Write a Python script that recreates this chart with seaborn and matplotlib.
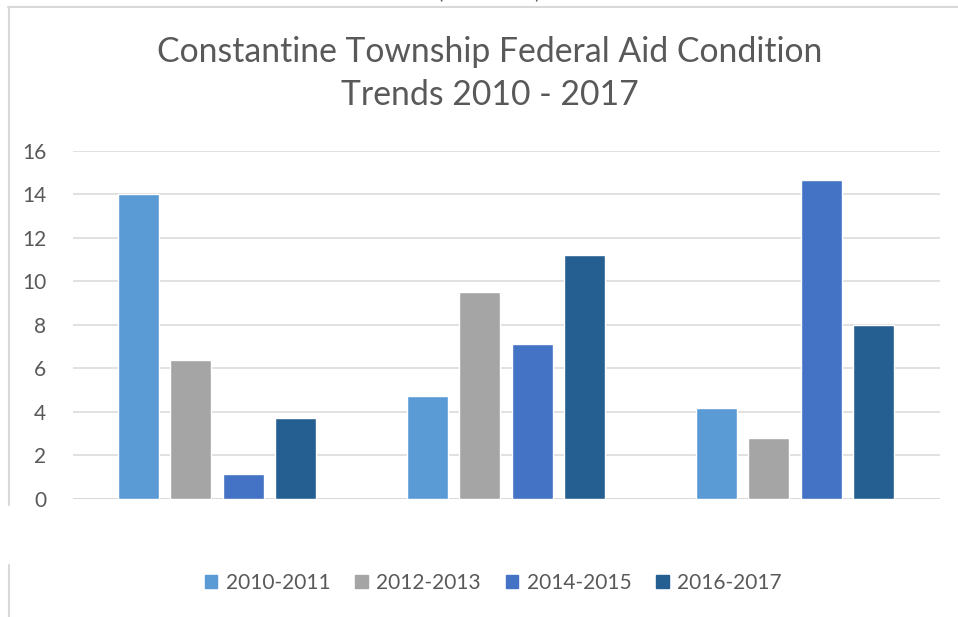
import numpy as np
import pandas as pd
import seaborn as sns
import matplotlib.pyplot as plt
from matplotlib.lines import Line2D

# Values
groups = ["Group A", "Group B", "Group C"]
periods = ["2010-2011", "2012-2013", "2014-2015", "2016-2017"]
values_2010_2011 = [14.0, 4.75, 4.17]
values_2012_2013 = [6.4, 9.52, 2.8]
values_2014_2015 = [1.15, 7.12, 14.67]
values_2016_2017 = [3.7, 11.22, 8.0]

period_colors = {
    "2010-2011": "#5B9BD5",
    "2012-2013": "#A5A5A5",
    "2014-2015": "#4472C4",
    "2016-2017": "#255E91",
}

df = pd.DataFrame({
    "group": groups * 4,
    "period": np.repeat(periods, 3),
    "value": values_2010_2011 + values_2012_2013 + values_2014_2015 + values_2016_2017,
})

sns.set_style("white")
plt.rcParams["font.family"] = ["Lato", "DejaVu Sans"]

text_grey = "#595959"
line_grey = "#D9D9D9"

fig = plt.figure(figsize=(9.58, 6.17), dpi=100)
ax = fig.add_axes([0.0757, 0.1913, 0.905, 0.564])

sns.barplot(data=df, x="group", y="value", hue="period", order=groups,
            hue_order=periods, palette=period_colors, width=0.724, gap=0.215,
            saturation=1, ax=ax, legend=True)

ax.set_xlim(-0.5, 2.5)
ax.set_ylim(0, 16)
ax.set_yticks(range(0, 17, 2))
ax.yaxis.grid(True, color=line_grey, linewidth=1.1)
ax.set_axisbelow(True)
for s in ["top", "right", "left", "bottom"]:
    ax.spines[s].set_visible(False)
ax.axhline(0, color=line_grey, linewidth=1.4, zorder=0.5)
ax.set_xticks([])
ax.set_xlabel("")
ax.set_ylabel("")
ax.tick_params(axis="y", length=0, pad=19, labelsize=15, labelcolor=text_grey)

ax.legend_.remove()
handles = [plt.Rectangle((0, 0), 1, 1, color=period_colors[p]) for p in periods]
fig.legend(handles, periods, loc="center", bbox_to_anchor=(0.515, 0.055),
           ncol=4, frameon=False, fontsize=15, labelcolor=text_grey,
           handlelength=0.6, handleheight=0.6, handletextpad=0.4,
           columnspacing=1.2)

fig.text(0.511, 0.881, "Constantine Township Federal Aid Condition\nTrends 2010 - 2017",
         ha="center", va="center", fontsize=24.3, color=text_grey,
         linespacing=1.4)

# clipped caption from above the chart frame
fig.text(0.511, 1.012, "(Lane Miles)", ha="center", va="center",
         fontsize=14, color=text_grey)

# chart frame edges visible in the crop
fig.add_artist(Line2D([8 / 958, 1.0], [1 - 6.5 / 617] * 2, color=line_grey, lw=1.5))
fig.add_artist(Line2D([8.5 / 958] * 2, [1 - 6.5 / 617, 1 - 505 / 617], color=line_grey, lw=1.5))
fig.add_artist(Line2D([8.5 / 958] * 2, [1 - 565 / 617, 0.0], color=line_grey, lw=1.5))

fig.savefig("out.png", dpi=100)
